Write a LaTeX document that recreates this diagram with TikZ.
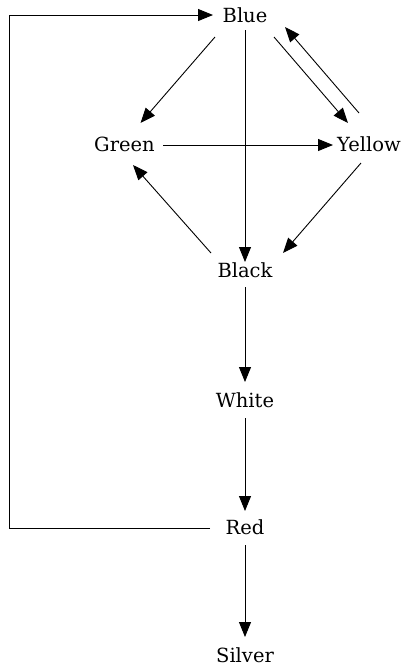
\documentclass[tikz,border=0pt]{standalone}
\usepackage{fontspec}
\setmainfont{DejaVu Serif}
\usetikzlibrary{arrows.meta}
\begin{document}
\begin{tikzpicture}[x=1pt,y=-1pt,
  lbl/.style={inner sep=0pt,font=\fontsize{19.5}{21}\selectfont},
  edge/.style={line width=0.9pt,-{Triangle[length=15pt,width=12pt]}}]
\useasboundingbox (0,0) rectangle (401,665);
\node[lbl] (blue) at (245,15) {Blue};
\node[lbl] (green) at (124.5,144) {Green};
\node[lbl] (yellow) at (369,144) {Yellow};
\node[lbl] (black) at (245,270) {Black};
\node[lbl] (white) at (245,400) {White};
\node[lbl] (red) at (245,527) {Red};
\node[lbl] (silver) at (245,655) {Silver};
% edges
\draw[edge] ([shift={(-30,22)}]blue.center) -- ([shift={(16,-21)}]green.center);
\draw[edge] ([shift={(0,15)}]blue.center) -- ([shift={(0,-8)}]black.center);
\draw[edge] ([shift={(29,22)}]blue.center) -- ([shift={(-21,-21)}]yellow.center);
\draw[edge] ([shift={(-10,-31)}]yellow.center) -- ([shift={(40,12)}]blue.center);
\draw[edge] ([shift={(38.5,1)}]green.center) -- ([shift={(-36,1)}]yellow.center);
\draw[edge] ([shift={(-8,19)}]yellow.center) -- ([shift={(38,-17)}]black.center);
\draw[edge] ([shift={(-34,-17)}]black.center) -- ([shift={(8.5,21)}]green.center);
\draw[edge] ([shift={(0,17)}]black.center) -- ([shift={(0,-18)}]white.center);
\draw[edge] ([shift={(0,18)}]white.center) -- ([shift={(0,-16)}]red.center);
\draw[edge] ([shift={(0,18)}]red.center) -- ([shift={(0,-18)}]silver.center);
\coordinate (c1) at (9,528);
\coordinate (c2) at (9,15);
\draw[edge] ([shift={(-35,1)}]red.center) -- (c1) -- (c2) -- ([shift={(-32,0)}]blue.center);
\end{tikzpicture}
\end{document}
